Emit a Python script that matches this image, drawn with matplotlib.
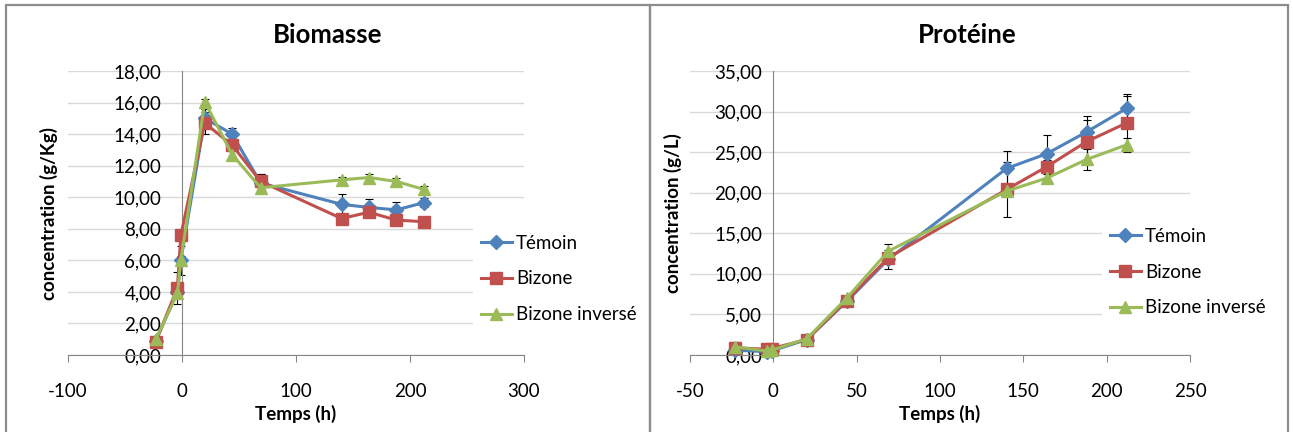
import matplotlib.pyplot as plt
from matplotlib.ticker import FuncFormatter, MultipleLocator
from matplotlib.patches import Rectangle

plt.rcParams['font.family'] = ['Lato', 'DejaVu Sans']
plt.rcParams['axes.unicode_minus'] = False

# temps de prélèvement (h)
temps = [-23, -4, -1, 20, 44, 69, 140, 164, 188, 212]

series = ['Témoin', 'Bizone', 'Bizone inversé']

# Biomasse (g/Kg)
bio_temoin = [0.9, 4.0, 6.0, 15.0, 14.0, 10.9, 9.55, 9.35, 9.2, 9.65]
bio_bizone = [0.85, 4.25, 7.6, 14.7, 13.3, 11.0, 8.65, 9.05, 8.55, 8.45]
bio_inverse = [1.0, 3.9, 6.0, 16.05, 12.7, 10.6, 11.1, 11.25, 11.0, 10.5]
bio_err_temoin = [0.2, 0.0, 0.9, 0.6, 0.4, 0.6, 0.65, 0.55, 0.5, 0.3]
bio_err_bizone = [0.2, 1.0, 0.0, 0.7, 0.3, 0.5, 0.2, 0.2, 0.2, 0.2]
bio_err_inverse = [0.1, 0.2, 0.3, 0.2, 0.2, 0.2, 0.2, 0.2, 0.2, 0.2]

# Protéine (g/L)
prot_temoin = [0.6, 0.4, 0.5, 1.9, 6.6, 11.8, 23.0, 24.8, 27.5, 30.4]
prot_bizone = [0.9, 0.7, 0.8, 1.9, 6.7, 12.0, 20.4, 23.2, 26.3, 28.6]
prot_inverse = [1.0, 0.5, 0.6, 2.0, 7.0, 12.8, 20.2, 21.8, 24.1, 25.9]
prot_err_temoin = [0.3, 0.2, 0.2, 0.2, 0.3, 1.2, 2.1, 2.3, 1.9, 1.8]
prot_err_bizone = [0.3, 0.2, 0.2, 0.2, 0.3, 0.6, 3.4, 0.8, 2.7, 3.3]
prot_err_inverse = [0.6, 0.2, 0.2, 0.2, 0.3, 0.9, 0.5, 0.5, 1.3, 0.9]

colors = ['#4F81BD', '#C0504D', '#9BBB59']
markers = [('D', 7), ('s', 8), ('^', 9)]
grid_col = '#D9D9D9'
axis_col = '#868686'

fig = plt.figure(figsize=(12.93, 4.32), dpi=100)

# cadres des deux graphiques
for x0, x1 in [(6, 650), (650, 1288)]:
    fig.patches.append(Rectangle((x0 / 1293, -0.01), (x1 - x0) / 1293, (432 - 5) / 432 + 0.01,
                                 transform=fig.transFigure, fill=False,
                                 edgecolor='#8C8C8C', linewidth=1.6))


def comma(v, pos):
    return f"{v:.2f}".replace('.', ',')


def draw(ax, ys, errs, xlim, xstep, ylim, ystep, ylabel, title, title_x, leg_x, leg_y, ypad):
    for y, e, c, (m, ms), name in zip(ys, errs, colors, markers, series):
        ax.errorbar(temps, y, yerr=e, fmt='none', ecolor='black', elinewidth=0.8,
                    capsize=3, capthick=0.8, zorder=2)
        ax.plot(temps, y, color=c, marker=m, markersize=ms, linewidth=2.2,
                label=name, zorder=3, clip_on=False)
    ax.set_xlim(*xlim)
    ax.set_ylim(*ylim)
    ax.xaxis.set_major_locator(MultipleLocator(xstep))
    ax.yaxis.set_major_locator(MultipleLocator(ystep))
    ax.yaxis.set_major_formatter(FuncFormatter(comma))
    ax.spines['top'].set_visible(False)
    ax.spines['right'].set_visible(False)
    ax.spines['left'].set_position(('data', 0))
    ax.spines['left'].set_color(axis_col)
    ax.spines['bottom'].set_color(axis_col)
    ax.grid(axis='y', color=grid_col, linewidth=1)
    ax.set_axisbelow(True)
    ax.tick_params(axis='y', length=0, pad=ypad, labelsize=13.5)
    ax.tick_params(axis='x', length=5, color=axis_col, pad=15, labelsize=13.5)
    ax.set_xlabel('Temps (h)', fontsize=13.5, fontweight='bold', labelpad=4)
    ax.set_ylabel(ylabel, fontsize=13.5, fontweight='bold')
    fig.text(title_x, (432 - 35) / 432, title, fontsize=18.5, fontweight='bold',
             ha='center', va='center')
    leg = ax.legend(loc='center left', bbox_to_anchor=(leg_x, leg_y),
                    bbox_transform=fig.transFigure, fontsize=13.5, frameon=True,
                    handlelength=1.7, handletextpad=0.2, labelspacing=1.0,
                    borderpad=0.4, borderaxespad=0)
    leg.get_frame().set_facecolor('white')
    leg.get_frame().set_edgecolor('none')
    leg.get_frame().set_alpha(1)
    leg.get_frame().set_boxstyle('square', pad=0)


ax1 = fig.add_axes([68 / 1293, 77 / 432, 456 / 1293, 284 / 432])
draw(ax1, [bio_temoin, bio_bizone, bio_inverse],
     [bio_err_temoin, bio_err_bizone, bio_err_inverse],
     (-100, 300), 100, (0, 18), 2, 'concentration (g/Kg)', 'Biomasse',
     328 / 1293, 473 / 1293, (432 - 279) / 432, 15)
ax1.yaxis.set_label_coords(-0.022, 0.5)

ax2 = fig.add_axes([690 / 1293, 77 / 432, 500 / 1293, 284 / 432])
draw(ax2, [prot_temoin, prot_bizone, prot_inverse],
     [prot_err_temoin, prot_err_bizone, prot_err_inverse],
     (-50, 250), 50, (0, 35), 5, 'concentration (g/L)', 'Protéine',
     967 / 1293, 1102 / 1293, (432 - 272) / 432, 8)
ax2.yaxis.set_label_coords(-0.015, 0.5)

fig.savefig('out.png', dpi=100)
